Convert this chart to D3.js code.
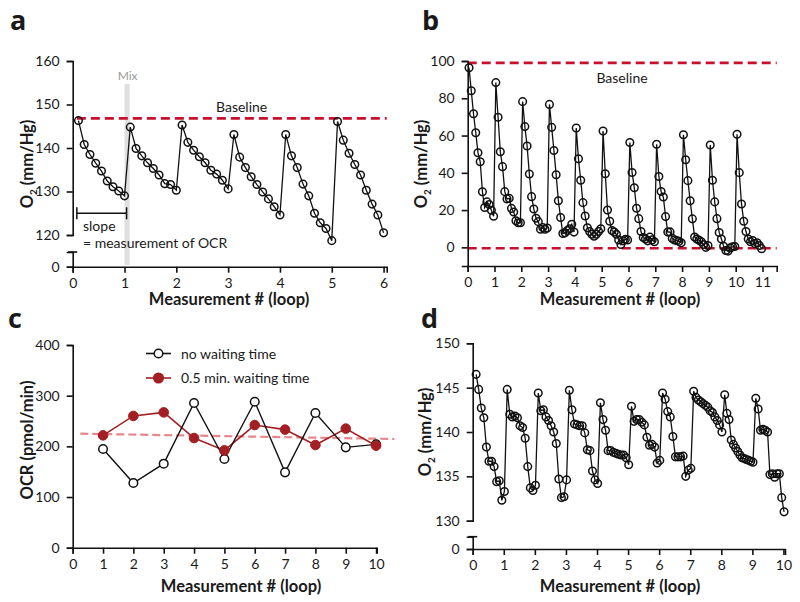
<!DOCTYPE html>
<html><head><meta charset="utf-8">
<script src="https://cdn.jsdelivr.net/npm/d3@7"></script>
<style>
body{margin:0;background:#fff;}
text{font-family:"Lato","Open Sans",sans-serif;fill:#1a1a1a;}
</style></head>
<body>
<script>
// ---------- DATA ----------
// Panel a: O2 (mm/Hg) per loop, 9 samples each
const aLoops = [
  [146.3,140.8,138.5,136.5,134.7,132.4,131.1,130.1,129.0],
  [144.8,139.9,138.2,136.6,135.3,133.8,131.8,131.6,130.3],
  [145.3,141.3,139.5,138.0,136.6,134.9,134.0,132.6,130.6],
  [143.1,137.9,135.5,133.4,131.6,129.9,128.3,126.5,124.6],
  [143.1,138.2,135.5,131.7,129.0,125.0,122.8,121.5,118.7],
  [146.1,141.8,138.8,136.2,133.8,130.3,127.1,124.6,120.5]
];
const aBaseline = 146.8;
const aTicksY = [120,130,140,150,160];
const aTicksX = [0,1,2,3,4,5,6];

// Panel b: O2 (mm/Hg) per loop, 12 samples each
const bLoops = [
  [96.4,84.0,71.7,61.5,50.8,45.9,29.8,21.4,24.4,23.0,19.9,16.7],
  [88.4,69.8,51.3,43.3,29.9,26.0,26.3,20.9,19.0,14.3,13.2,13.2],
  [78.2,64.8,54.4,39.4,27.2,20.6,15.6,13.8,9.7,10.6,9.7,10.4],
  [76.7,64.4,52.0,39.0,25.0,16.0,7.4,7.8,9.0,10.0,12.4,8.2],
  [64.0,47.5,36.0,24.0,16.8,10.5,8.5,7.0,6.0,7.0,8.5,10.0],
  [62.4,39.5,20.0,14.0,9.0,8.2,7.0,4.0,1.5,3.5,4.3,4.0],
  [56.3,40.2,32.0,21.0,15.4,8.5,5.3,4.5,3.5,5.5,4.0,3.0],
  [55.3,38.0,30.0,27.0,16.5,8.2,8.3,4.8,4.0,3.6,3.2,2.5],
  [60.4,47.0,35.8,25.0,15.3,5.6,4.5,3.8,3.0,1.5,0.0,1.0],
  [54.9,36.0,24.4,15.4,8.0,4.5,0.6,-1.7,-2.0,-0.3,0.3,0.5],
  [60.7,40.1,23.3,14.0,8.5,4.5,3.0,3.7,2.0,2.5,1.0,-0.7]
];
const bBaselines = [99, -0.5];
const bTicksY = [0,20,40,60,80,100];
const bTicksX = [0,1,2,3,4,5,6,7,8,9,10,11];

// Panel c: OCR (pmol/min)
const cLoops = [1,2,3,4,5,6,7,8,9,10];
const cNoWait = [194.7,127.6,165.8,285.5,175,288,148.7,265.8,198,204];
const cWait   = [221.7,260,267,216.4,192,242,233,202.6,235,201.3];
const cTrend  = [[0.25,225],[10.6,214.5]];
const cTicksY = [0,100,200,300,400];
const cTicksX = [0,1,2,3,4,5,6,7,8,9,10];
const cSeriesNames = ["no waiting time","0.5 min. waiting time"];

// Panel d: O2 (mm/Hg) per loop
const dLoops = [
  [146.5,144.8,142.7,141.6,138.3,136.7,136.7,136.1,134.4,134.5,132.3,133.3],
  [144.8,142.0,141.7,141.8,141.6,140.7,140.5,139.3,136.1,133.7,133.4,134.0],
  [144.4,142.4,142.5,141.7,141.3,140.7,140.0,138.7,134.7,132.6,132.7,134.6],
  [144.7,142.5,140.9,140.8,140.7,140.7,139.9,138.0,137.9,135.6,134.6,134.2],
  [143.3,141.4,140.2,137.9,137.9,137.7,137.6,137.5,137.4,137.4,137.1,136.3],
  [142.9,141.2,141.4,141.4,141.1,140.8,139.4,138.5,138.6,138.3,136.5,136.8],
  [144.4,143.7,142.3,141.7,139.5,137.2,137.2,137.2,137.3,135.0,135.7,135.9],
  [144.6,143.9,143.6,143.4,143.2,143.0,142.8,142.4,142.2,141.7,141.3,140.8,140.0],
  [144.2,142.1,141.4,139.1,138.6,138.2,137.8,137.4,137.1,137.0,136.9,136.8,136.7,136.6],
  [143.8,142.6,140.2,140.3,140.2,140.0,135.2,135.3,134.9,135.3,135.3,132.6,131.0]
];
const dTicksY = [130,135,140,145,150];
const dTicksX = [0,1,2,3,4,5,6,7,8,9,10];

// ---------- STYLE ----------
const RED = "#c8102e";
const DARKRED = "#a31f24";
const PINK = "#e8868c";
const TICKFS = 14;
const TITLEFS = 16.5;
const fmt = d3.format("d");

const svg = d3.select("body").append("svg").attr("width",800).attr("height",602);

function styleAxis(g){
  g.selectAll("path.domain").attr("stroke","#111").attr("stroke-width",1.6);
  g.selectAll(".tick line").attr("stroke","#111").attr("stroke-width",1.6);
  g.selectAll(".tick text").style("font-size",TICKFS+"px").style("font-family","Lato, 'Open Sans', sans-serif").attr("fill","#222");
}
function panelLetter(t,x,y){
  svg.append("text").attr("x",x).attr("y",y).text(t)
    .style("font-size","27px").style("font-weight","bold").style("font-family","'Open Sans', Lato, sans-serif");
}
function xTitle(cx,y){
  svg.append("text").attr("x",cx).attr("y",y).attr("text-anchor","middle")
    .style("font-size",TITLEFS+"px").style("font-weight","bold").text("Measurement # (loop)");
}
function yTitleO2(cx,cy){
  const t = svg.append("text").attr("transform",`translate(${cx},${cy}) rotate(-90)`)
    .attr("text-anchor","middle").style("font-size",TITLEFS+"px").style("font-weight","bold");
  t.append("tspan").text("O");
  t.append("tspan").text("2").style("font-size","10px").attr("dy",4);
  t.append("tspan").text(" (mm/Hg)").attr("dy",-4);
}
function loopsToPoints(loops, xFn){
  const pts=[];
  loops.forEach((vals,i)=>vals.forEach((v,k)=>pts.push([xFn(i,k,vals.length),v])));
  return pts;
}
function drawSeries(g, pts, x, y, r){
  g.append("path").datum(pts)
    .attr("d", d3.line().x(d=>x(d[0])).y(d=>y(d[1])))
    .attr("fill","none").attr("stroke","#111").attr("stroke-width",1.3);
  g.selectAll("circle.pt").data(pts).join("circle").attr("class","pt")
    .attr("cx",d=>x(d[0])).attr("cy",d=>y(d[1])).attr("r",r)
    .attr("fill","none").attr("stroke","#111").attr("stroke-width",1.5);
}
// broken y-axis: upper scale + a short zero segment
function brokenY(xPos, yUpper, ticks, zeroY, capY){
  const ga = svg.append("g").attr("transform",`translate(${xPos},0)`)
    .call(d3.axisLeft(yUpper).tickValues(ticks).tickFormat(fmt).tickSizeOuter(0).tickSize(6).tickPadding(7));
  styleAxis(ga);
  const yLow = d3.scaleLinear([0,1],[zeroY,capY]);
  const gb = svg.append("g").attr("transform",`translate(${xPos},0)`)
    .call(d3.axisLeft(yLow).tickValues([0]).tickFormat(fmt).tickSizeOuter(0).tickSize(6).tickPadding(7));
  styleAxis(gb);
  svg.append("line").attr("x1",xPos-4.5).attr("x2",xPos+4.5).attr("y1",capY).attr("y2",capY)
    .attr("stroke","#111").attr("stroke-width",1.6);
}

// ---------- PANEL A ----------
(function(){
  const x = d3.scaleLinear([0,6.06],[72.7,386.7]);
  const y = d3.scaleLinear([120,160],[235,61]);
  const g = svg.append("g");
  // mix band
  g.append("rect").attr("x",x(1.0)).attr("width",x(1.1)-x(1.0))
    .attr("y",84).attr("height",265-84).attr("fill","#e0e0e0");
  g.append("text").attr("x",x(1.06)).attr("y",80).attr("text-anchor","middle")
    .style("font-size","12px").style("fill","#9a9a9a").text("Mix");
  // baseline
  g.append("line").attr("x1",x(0.08)).attr("x2",x(6.06)).attr("y1",y(aBaseline)).attr("y2",y(aBaseline))
    .attr("stroke",RED).attr("stroke-width",2.6).attr("stroke-dasharray","9,5");
  g.append("text").attr("x",x(3.26)).attr("y",112).attr("text-anchor","middle")
    .style("font-size","14px").text("Baseline");
  // slope bracket
  const by = 213.3;
  g.append("line").attr("x1",x(0.08)).attr("x2",x(1.04)).attr("y1",by).attr("y2",by).attr("stroke","#111").attr("stroke-width",1.5);
  [0.08,1.04].forEach(v=>g.append("line").attr("x1",x(v)).attr("x2",x(v)).attr("y1",by-6).attr("y2",by+6).attr("stroke","#111").attr("stroke-width",1.5));
  g.append("text").attr("x",83).attr("y",231).style("font-size","14px").text("slope");
  g.append("text").attr("x",83).attr("y",248).style("font-size","14px").text("= measurement of OCR");
  // axes
  const gx = svg.append("g").attr("transform","translate(0,266.7)")
    .call(d3.axisBottom(x).tickValues(aTicksX).tickFormat(fmt).tickSizeOuter(0).tickSize(6).tickPadding(5));
  styleAxis(gx);
  brokenY(72.7, y, aTicksY, 266.7, 252);
  const pts = loopsToPoints(aLoops,(i,k,n)=>i+(k+1)/9);
  drawSeries(g, pts, x, y, 3.8);
  panelLetter("a",10,30);
  xTitle(229,305);
  yTitleO2(33,164);
})();

// ---------- PANEL B ----------
(function(){
  const x = d3.scaleLinear([0,11.53],[467.7,776.7]);
  const y = d3.scaleLinear([-10,100],[266,61]);
  const g = svg.append("g");
  bBaselines.forEach(v=>g.append("line").attr("x1",x(0)).attr("x2",x(11.53)).attr("y1",y(v)).attr("y2",y(v))
    .attr("stroke",RED).attr("stroke-width",2.6).attr("stroke-dasharray","9,5"));
  g.append("text").attr("x",622).attr("y",83).attr("text-anchor","middle").style("font-size","14px").text("Baseline");
  const gx = svg.append("g").attr("transform","translate(0,266)")
    .call(d3.axisBottom(x).tickValues(bTicksX).tickFormat(fmt).tickSizeOuter(0).tickSize(6).tickPadding(5));
  styleAxis(gx);
  const gy = svg.append("g").attr("transform","translate(467.7,0)")
    .call(d3.axisLeft(y).tickValues(bTicksY).tickFormat(fmt).tickSizeOuter(0).tickSize(6).tickPadding(7));
  styleAxis(gy);
  const pts = loopsToPoints(bLoops,(i,k,n)=>i+0.05+k/12);
  drawSeries(g, pts, x, y, 3.8);
  panelLetter("b",422,30);
  xTitle(620,305);
  yTitleO2(427,164);
})();

// ---------- PANEL C ----------
(function(){
  const x = d3.scaleLinear([0,10.02],[72.7,376.7]);
  const y = d3.scaleLinear([0,400],[547.7,345]);
  const g = svg.append("g");
  const gx = svg.append("g").attr("transform","translate(0,547.7)")
    .call(d3.axisBottom(x).tickValues(cTicksX).tickFormat(fmt).tickSizeOuter(0).tickSize(6).tickPadding(5));
  styleAxis(gx);
  const gy = svg.append("g").attr("transform","translate(72.7,0)")
    .call(d3.axisLeft(y).tickValues(cTicksY).tickFormat(fmt).tickSizeOuter(0).tickSize(6).tickPadding(7));
  styleAxis(gy);
  // trend
  g.append("line").attr("x1",x(cTrend[0][0])).attr("y1",y(cTrend[0][1]))
    .attr("x2",x(cTrend[1][0])).attr("y2",y(cTrend[1][1]))
    .attr("stroke",PINK).attr("stroke-width",2.2).attr("stroke-dasharray","8,4");
  const line = d3.line().x((d,i)=>x(cLoops[i])).y(d=>y(d));
  g.append("path").datum(cWait).attr("d",line).attr("fill","none").attr("stroke",DARKRED).attr("stroke-width",1.6);
  g.append("path").datum(cNoWait).attr("d",line).attr("fill","none").attr("stroke","#111").attr("stroke-width",1.4);
  g.selectAll("circle.nw").data(cNoWait).join("circle").attr("class","nw")
    .attr("cx",(d,i)=>x(cLoops[i])).attr("cy",d=>y(d)).attr("r",4.3)
    .attr("fill","#fff").attr("stroke","#111").attr("stroke-width",1.5);
  g.selectAll("circle.w").data(cWait).join("circle").attr("class","w")
    .attr("cx",(d,i)=>x(cLoops[i])).attr("cy",d=>y(d)).attr("r",4.8)
    .attr("fill",DARKRED).attr("stroke",DARKRED).attr("stroke-width",1);
  // legend
  const lg = svg.append("g");
  [[353.5,"#111",false],[378,DARKRED,true]].forEach((s,i)=>{
    lg.append("line").attr("x1",146).attr("x2",171).attr("y1",s[0]).attr("y2",s[0]).attr("stroke",s[1]).attr("stroke-width",1.6);
    lg.append("circle").attr("cx",158.5).attr("cy",s[0]).attr("r",i?4.8:4.3)
      .attr("fill",s[2]?s[1]:"#fff").attr("stroke",s[1]).attr("stroke-width",1.5);
    lg.append("text").attr("x",181).attr("y",s[0]+5).style("font-size","14px").text(cSeriesNames[i]);
  });
  panelLetter("c",8,328);
  xTitle(241,592);
  svg.append("text").attr("transform","translate(33,440) rotate(-90)").attr("text-anchor","middle")
    .style("font-size",TITLEFS+"px").style("font-weight","bold").text("OCR (pmol/min)");
})();

// ---------- PANEL D ----------
(function(){
  const x = d3.scaleLinear([0,10.05],[472.7,785]);
  const y = d3.scaleLinear([130,150],[520.7,343.3]);
  const g = svg.append("g");
  const gx = svg.append("g").attr("transform","translate(0,549)")
    .call(d3.axisBottom(x).tickValues(dTicksX).tickFormat(fmt).tickSizeOuter(0).tickSize(6).tickPadding(5));
  styleAxis(gx);
  brokenY(472.7, y, dTicksY, 549, 536.7);
  const pts = loopsToPoints(dLoops,(i,k,n)=>i+0.11+k*0.91/(n-1));
  drawSeries(g, pts, x, y, 3.8);
  panelLetter("d",421,328);
  xTitle(620,592);
  yTitleO2(431,432);
})();
</script>
</body></html>
